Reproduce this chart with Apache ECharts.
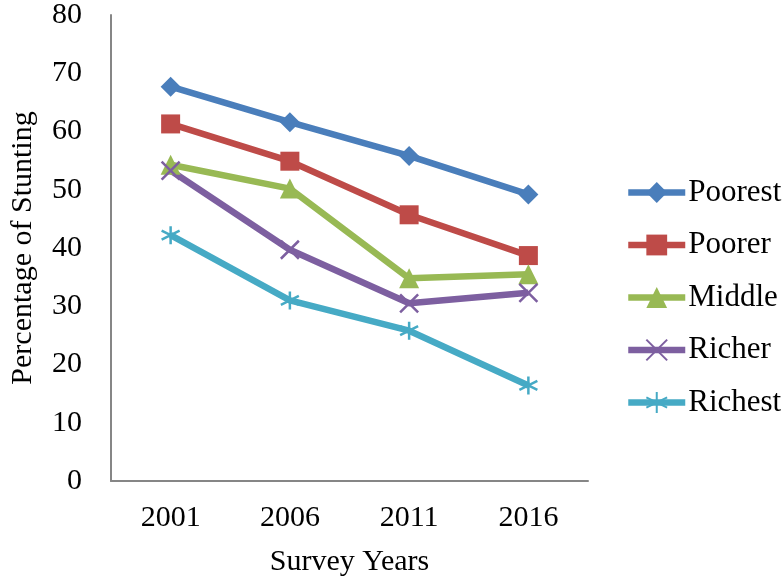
<!DOCTYPE html>
<html>
<head>
<meta charset="utf-8">
<script src="https://cdn.jsdelivr.net/npm/echarts@6/dist/echarts.min.js"></script>
<style>html,body{margin:0;padding:0;background:#fff}#c{width:782px;height:582px}</style>
</head>
<body>
<div id="c"></div>
<script>
var years = ['2001', '2006', '2011', '2016'];
var seriesNames = ['Poorest', 'Poorer', 'Middle', 'Richer', 'Richest'];
var poorest = [67.7, 61.6, 55.8, 49.2];
var poorer = [61.3, 54.9, 45.7, 38.7];
var middle = [54.3, 50.2, 34.8, 35.5];
var richer = [53.3, 39.7, 30.5, 32.3];
var richest = [42.2, 31.0, 25.8, 16.4];
var yTicks = [0, 10, 20, 30, 40, 50, 60, 70, 80];

var colors = ['#4A7EBB', '#BE4B48', '#98B954', '#7D5FA0', '#46AAC5'];
var symbols = [
  'diamond',
  'rect',
  'triangle',
  'path://M0,0 L10,10 M10,0 L0,10',
  'path://M5,0 L5,10 M0.7,2.5 L9.3,7.5 M0.7,7.5 L9.3,2.5'
];
var sizes = [20, 19, 20, 18, 18];
var allData = [poorest, poorer, middle, richer, richest];
var FONT = "'Liberation Serif', 'Times New Roman', serif";

var series = seriesNames.map(function (n, i) {
  return {
    name: n,
    type: 'line',
    data: allData[i],
    symbol: symbols[i],
    symbolSize: sizes[i],
    lineStyle: { color: colors[i], width: 6.5 },
    itemStyle: { color: colors[i], borderColor: colors[i], borderWidth: i >= 3 ? 2.5 : 0 },
    emphasis: { disabled: true },
    animation: false
  };
});

var chart = echarts.init(document.getElementById('c'));
chart.setOption({
  animation: false,
  textStyle: { fontFamily: FONT, color: '#000' },
  grid: { left: 105, top: 12, right: 194, bottom: 101, containLabel: false },
  legend: {
    orient: 'vertical',
    left: 625,
    top: 177,
    itemWidth: 57,
    itemHeight: 26,
    itemGap: 21.5,
    padding: 0,
    data: seriesNames,
    lineStyle: { width: 6.5 },
    textStyle: { fontFamily: FONT, fontSize: 31, color: '#000', padding: [0, 0, 0, -2] }
  },
  xAxis: {
    type: 'category',
    data: years,
    boundaryGap: true,
    name: 'Survey Years',
    nameLocation: 'middle',
    nameGap: 66,
    nameTextStyle: { fontFamily: FONT, fontSize: 30, color: '#000' },
    axisLine: { show: true, lineStyle: { color: '#868686', width: 2 } },
    axisTick: { show: false },
    axisLabel: { fontFamily: FONT, fontSize: 30, color: '#000', margin: 22 },
    splitLine: { show: false }
  },
  yAxis: {
    type: 'value',
    min: yTicks[0],
    max: yTicks[yTicks.length - 1],
    interval: 10,
    name: 'Percentage of Stunting',
    nameLocation: 'middle',
    nameRotate: 90,
    nameGap: 73,
    nameTextStyle: { fontFamily: FONT, fontSize: 30, color: '#000' },
    axisLine: { show: true, lineStyle: { color: '#868686', width: 2 } },
    axisTick: { show: false },
    axisLabel: { fontFamily: FONT, fontSize: 30, color: '#000', margin: 29 },
    splitLine: { show: false }
  },
  series: series
});
</script>
</body>
</html>
